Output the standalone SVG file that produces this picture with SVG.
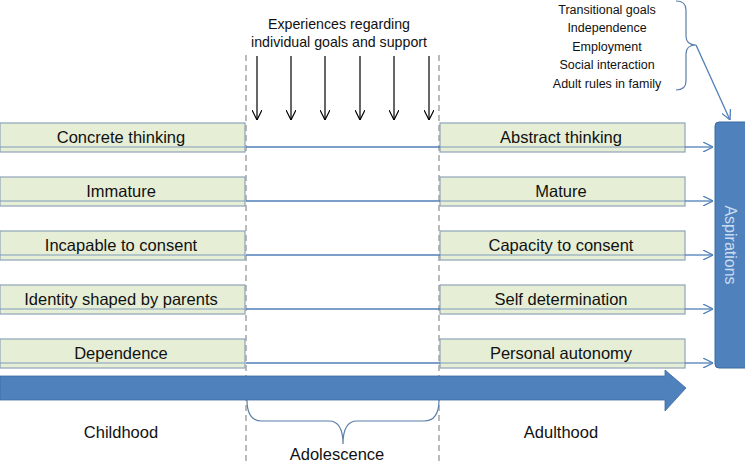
<svg xmlns="http://www.w3.org/2000/svg" width="745" height="461" viewBox="0 0 745 461">
<style>
.box{fill:#e6eed6;stroke:#8ea3b8;stroke-width:1.2}
.bt{font-family:"Liberation Sans",Arial,sans-serif;font-size:16.5px;fill:#111;text-anchor:middle}
.st{font-family:"Liberation Sans",Arial,sans-serif;font-size:12.5px;fill:#111;text-anchor:middle}
.et{font-family:"Liberation Sans",Arial,sans-serif;font-size:14.2px;fill:#111;text-anchor:middle}
.lt{font-family:"Liberation Sans",Arial,sans-serif;font-size:16.5px;fill:#111;text-anchor:middle}
.con{stroke:#4f7fb8;stroke-width:1.3;fill:none}
.inner{stroke:#7f9cbc;stroke-width:1;fill:none}
.down{stroke:#000;stroke-width:1.2;fill:none}
.dash{stroke:#777;stroke-width:1;stroke-dasharray:6,4;fill:none}
.brace{stroke:#5a7fa8;stroke-width:1.2;fill:none}
</style>
<defs>
<marker id="oa" viewBox="0 0 10 10" refX="10" refY="5" markerWidth="10" markerHeight="10" markerUnits="userSpaceOnUse" orient="auto">
<path d="M0,0 L10,5 L0,10" fill="none" stroke="#4f7fb8" stroke-width="1.3"/>
</marker>
<marker id="ba" viewBox="0 0 10 10" refX="10" refY="5" markerWidth="10" markerHeight="10" markerUnits="userSpaceOnUse" orient="auto">
<path d="M0,0 L10,5 L0,10" fill="none" stroke="#000" stroke-width="1.2"/>
</marker>
</defs>
<g id="dividers">
<line class="dash" x1="246" y1="55" x2="246" y2="461"/>
<line class="dash" x1="439" y1="55" x2="439" y2="461"/>
</g>
<g id="experiences">
<text class="et" x="339" y="29">Experiences regarding</text>
<text class="et" x="339" y="47">individual goals and support</text>
</g>
<g id="goals">
<text class="st" x="607" y="14">Transitional goals</text>
<text class="st" x="607" y="32">Independence</text>
<text class="st" x="607" y="51">Employment</text>
<text class="st" x="607" y="69">Social interaction</text>
<text class="st" x="607" y="88">Adult rules in family</text>
<path class="brace" d="M676,1 Q686,1 686,10 L686,36 Q686,45 696,45 Q686,45 686,54 L686,81 Q686,90 676,90"/>
</g>
<g id="left-boxes">
<g id="l1"><rect class="box" x="0" y="123" width="245" height="29"/><text class="bt" x="121" y="143">Concrete thinking</text></g>
<g id="l2"><rect class="box" x="0" y="177" width="245" height="29"/><text class="bt" x="121" y="197">Immature</text></g>
<g id="l3"><rect class="box" x="0" y="231" width="245" height="29"/><text class="bt" x="121" y="251">Incapable to consent</text></g>
<g id="l4"><rect class="box" x="0" y="285" width="245" height="29"/><text class="bt" x="121" y="305">Identity shaped by parents</text></g>
<g id="l5"><rect class="box" x="0" y="339" width="245" height="29"/><text class="bt" x="121" y="359">Dependence</text></g>
</g>
<g id="right-boxes">
<g id="r1"><rect class="box" x="440" y="123" width="245" height="29"/><text class="bt" x="561" y="143">Abstract thinking</text></g>
<g id="r2"><rect class="box" x="440" y="177" width="245" height="29"/><text class="bt" x="561" y="197">Mature</text></g>
<g id="r3"><rect class="box" x="440" y="231" width="245" height="29"/><text class="bt" x="561" y="251">Capacity to consent</text></g>
<g id="r4"><rect class="box" x="440" y="285" width="245" height="29"/><text class="bt" x="561" y="305">Self determination</text></g>
<g id="r5"><rect class="box" x="440" y="339" width="245" height="29"/><text class="bt" x="561" y="359">Personal autonomy</text></g>
</g>
<g id="aspirations">
<rect x="715" y="122" width="40" height="246" rx="4" fill="#4f81bd" stroke="#3d6a9e" stroke-width="1"/>
<text x="730" y="245" transform="rotate(90 730 245)" font-family="Liberation Sans, Arial, sans-serif" font-size="16" fill="#c9dcf2" text-anchor="middle" dominant-baseline="central">Aspirations</text>
</g>
<g id="connectors">
<line class="inner" x1="0" y1="147" x2="245" y2="147"/>
<line class="inner" x1="0" y1="201" x2="245" y2="201"/>
<line class="inner" x1="0" y1="255" x2="245" y2="255"/>
<line class="inner" x1="0" y1="309" x2="245" y2="309"/>
<line class="inner" x1="0" y1="363" x2="245" y2="363"/>
<line class="con" x1="246" y1="147" x2="440" y2="147"/>
<line class="con" x1="246" y1="201" x2="440" y2="201"/>
<line class="con" x1="246" y1="255" x2="440" y2="255"/>
<line class="con" x1="246" y1="309" x2="440" y2="309"/>
<line class="con" x1="246" y1="363" x2="440" y2="363"/>
<line class="inner" x1="440" y1="147" x2="685" y2="147"/>
<line class="inner" x1="440" y1="201" x2="685" y2="201"/>
<line class="inner" x1="440" y1="255" x2="685" y2="255"/>
<line class="inner" x1="440" y1="309" x2="685" y2="309"/>
<line class="inner" x1="440" y1="363" x2="685" y2="363"/>
<line class="con" x1="685" y1="147" x2="713" y2="147" marker-end="url(#oa)"/>
<line class="con" x1="685" y1="201" x2="713" y2="201" marker-end="url(#oa)"/>
<line class="con" x1="685" y1="255" x2="713" y2="255" marker-end="url(#oa)"/>
<line class="con" x1="685" y1="309" x2="713" y2="309" marker-end="url(#oa)"/>
<line class="con" x1="685" y1="363" x2="713" y2="363" marker-end="url(#oa)"/>
<line class="con" x1="696" y1="45" x2="730" y2="120" marker-end="url(#oa)"/>
<line class="down" x1="257" y1="56" x2="257" y2="120" marker-end="url(#ba)"/>
<line class="down" x1="291" y1="56" x2="291" y2="120" marker-end="url(#ba)"/>
<line class="down" x1="325" y1="56" x2="325" y2="120" marker-end="url(#ba)"/>
<line class="down" x1="360" y1="56" x2="360" y2="120" marker-end="url(#ba)"/>
<line class="down" x1="394" y1="56" x2="394" y2="120" marker-end="url(#ba)"/>
<line class="down" x1="429" y1="56" x2="429" y2="120" marker-end="url(#ba)"/>
</g>
<g id="timeline">
<path d="M0,376 L665,376 L665,370 L686,388 L665,411 L665,400 L0,400 Z" fill="#4f81bd" stroke="#3d6a9e" stroke-width="0.8"/>
<path class="brace" d="M247,400 Q247,421 262,421 L329,421 Q343,421 343,444 Q343,421 357,421 L424,421 Q439,421 439,400"/>
</g>
<g id="phase-labels">
<text class="lt" x="121" y="438">Childhood</text>
<text class="lt" x="561" y="438">Adulthood</text>
<text class="lt" x="337" y="460">Adolescence</text>
</g>
</svg>
